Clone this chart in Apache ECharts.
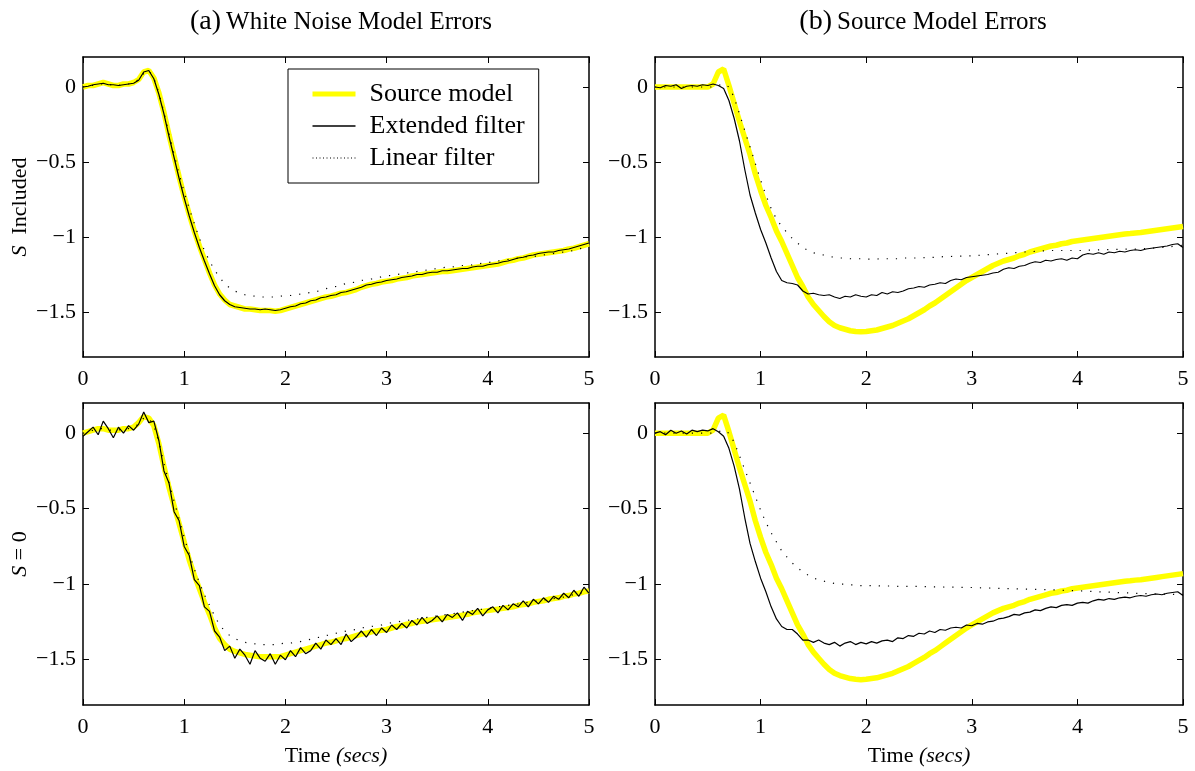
<!DOCTYPE html>
<html>
<head>
    <meta charset="utf-8">
    <title>Model errors</title>
    <script src="https://cdn.jsdelivr.net/npm/echarts@6/dist/echarts.min.js"></script>
    <style>
        html, body {margin:0;padding:0;background:#fff;}
        #chart {width:1195px;height:771px;}
    </style>
</head>
<body>
<div id="chart"></div>
<script>
    // sample times (secs)
    const time = [
        0.00, 0.05, 0.10, 0.15, 0.20, 0.25, 0.30, 0.35, 0.40, 0.45,
        0.50, 0.55, 0.60, 0.65, 0.70, 0.75, 0.80, 0.85, 0.90, 0.95,
        1.00, 1.05, 1.10, 1.15, 1.20, 1.25, 1.30, 1.35, 1.40, 1.45,
        1.50, 1.55, 1.60, 1.65, 1.70, 1.75, 1.80, 1.85, 1.90, 1.95,
        2.00, 2.05, 2.10, 2.15, 2.20, 2.25, 2.30, 2.35, 2.40, 2.45,
        2.50, 2.55, 2.60, 2.65, 2.70, 2.75, 2.80, 2.85, 2.90, 2.95,
        3.00, 3.05, 3.10, 3.15, 3.20, 3.25, 3.30, 3.35, 3.40, 3.45,
        3.50, 3.55, 3.60, 3.65, 3.70, 3.75, 3.80, 3.85, 3.90, 3.95,
        4.00, 4.05, 4.10, 4.15, 4.20, 4.25, 4.30, 4.35, 4.40, 4.45,
        4.50, 4.55, 4.60, 4.65, 4.70, 4.75, 4.80, 4.85, 4.90, 4.95,
        5.00
    ];

    // (a) white noise model errors, S included
    const srcA = [
        0.00, 0.01, 0.01, 0.02, 0.03, 0.02, 0.01, 0.01, 0.02, 0.02,
        0.03, 0.05, 0.10, 0.11, 0.06, -0.04, -0.17, -0.32, -0.46, -0.60,
        -0.73, -0.85, -0.96, -1.06, -1.15, -1.24, -1.32, -1.38, -1.42, -1.45,
        -1.46, -1.47, -1.48, -1.48, -1.485, -1.49, -1.49, -1.49, -1.495, -1.49,
        -1.48, -1.47, -1.46, -1.45, -1.44, -1.43, -1.42, -1.41, -1.40, -1.395,
        -1.385, -1.375, -1.37, -1.36, -1.35, -1.335, -1.325, -1.315, -1.31, -1.30,
        -1.295, -1.29, -1.28, -1.275, -1.27, -1.26, -1.255, -1.25, -1.245, -1.24,
        -1.235, -1.23, -1.23, -1.225, -1.22, -1.215, -1.21, -1.205, -1.20, -1.195,
        -1.19, -1.185, -1.18, -1.17, -1.16, -1.155, -1.145, -1.14, -1.13, -1.12,
        -1.115, -1.11, -1.105, -1.10, -1.095, -1.09, -1.08, -1.075, -1.065, -1.055,
        -1.045
    ];
    const extA = [
        0.00, 0.005, 0.015, 0.02, 0.025, 0.015, 0.015, 0.01, 0.015, 0.02,
        0.025, 0.045, 0.10, 0.11, 0.055, -0.05, -0.18, -0.33, -0.47, -0.61,
        -0.74, -0.86, -0.97, -1.07, -1.16, -1.245, -1.325, -1.385, -1.425, -1.45,
        -1.465, -1.47, -1.475, -1.48, -1.48, -1.485, -1.48, -1.485, -1.49, -1.485,
        -1.475, -1.465, -1.46, -1.445, -1.44, -1.425, -1.42, -1.405, -1.40, -1.39,
        -1.385, -1.37, -1.365, -1.355, -1.345, -1.335, -1.32, -1.315, -1.305, -1.30,
        -1.29, -1.285, -1.28, -1.27, -1.265, -1.26, -1.25, -1.25, -1.24, -1.235,
        -1.235, -1.225, -1.225, -1.22, -1.215, -1.21, -1.21, -1.20, -1.195, -1.195,
        -1.185, -1.18, -1.175, -1.165, -1.16, -1.15, -1.14, -1.135, -1.125, -1.12,
        -1.11, -1.105, -1.10, -1.10, -1.09, -1.085, -1.08, -1.07, -1.06, -1.05,
        -1.04
    ];
    const linA = [
        0.00, 0.01, 0.01, 0.02, 0.02, 0.02, 0.01, 0.01, 0.02, 0.02,
        0.03, 0.05, 0.09, 0.11, 0.06, -0.04, -0.17, -0.31, -0.45, -0.58,
        -0.70, -0.81, -0.91, -1.01, -1.09, -1.16, -1.22, -1.27, -1.31, -1.34,
        -1.36, -1.375, -1.385, -1.39, -1.395, -1.40, -1.40, -1.40, -1.40, -1.395,
        -1.39, -1.39, -1.385, -1.38, -1.375, -1.37, -1.365, -1.355, -1.345, -1.335,
        -1.33, -1.32, -1.31, -1.305, -1.30, -1.29, -1.285, -1.28, -1.275, -1.265,
        -1.26, -1.255, -1.25, -1.245, -1.24, -1.235, -1.23, -1.225, -1.22, -1.215,
        -1.21, -1.205, -1.20, -1.20, -1.195, -1.19, -1.19, -1.185, -1.18, -1.175,
        -1.17, -1.165, -1.16, -1.155, -1.15, -1.145, -1.14, -1.135, -1.13, -1.13,
        -1.125, -1.12, -1.115, -1.11, -1.105, -1.10, -1.095, -1.09, -1.08, -1.07,
        -1.06
    ];

    // (b) source model errors, S included
    const srcB = [
        0.00, 0.00, 0.00, 0.00, 0.00, 0.00, 0.00, 0.00, 0.00, 0.00,
        0.00, 0.02, 0.10, 0.12, 0.01, -0.11, -0.23, -0.34, -0.45, -0.58,
        -0.69, -0.79, -0.87, -0.96, -1.03, -1.11, -1.19, -1.27, -1.33, -1.40,
        -1.45, -1.49, -1.53, -1.565, -1.59, -1.605, -1.615, -1.625, -1.63, -1.632,
        -1.63, -1.625, -1.62, -1.61, -1.60, -1.59, -1.575, -1.56, -1.545, -1.525,
        -1.505, -1.485, -1.46, -1.44, -1.415, -1.39, -1.365, -1.34, -1.315, -1.29,
        -1.27, -1.25, -1.23, -1.21, -1.19, -1.175, -1.16, -1.15, -1.14, -1.125,
        -1.115, -1.10, -1.09, -1.08, -1.07, -1.06, -1.055, -1.045, -1.04, -1.03,
        -1.025, -1.02, -1.015, -1.01, -1.005, -1.00, -0.995, -0.99, -0.985, -0.98,
        -0.977, -0.973, -0.97, -0.965, -0.96, -0.955, -0.95, -0.945, -0.94, -0.935,
        -0.93
    ];
    const extB = [
        0.00, -0.005, 0.01, 0.005, 0.015, -0.01, 0.005, 0.01, 0.005, 0.015,
        0.01, 0.02, 0.01, -0.01, -0.09, -0.21, -0.36, -0.55, -0.72, -0.84,
        -0.95, -1.04, -1.14, -1.23, -1.29, -1.305, -1.31, -1.32, -1.36, -1.38,
        -1.375, -1.385, -1.39, -1.385, -1.40, -1.41, -1.395, -1.40, -1.385, -1.395,
        -1.40, -1.385, -1.39, -1.37, -1.38, -1.365, -1.37, -1.36, -1.345, -1.34,
        -1.33, -1.335, -1.32, -1.315, -1.305, -1.31, -1.29, -1.28, -1.285, -1.27,
        -1.265, -1.26, -1.255, -1.25, -1.24, -1.235, -1.215, -1.205, -1.21, -1.195,
        -1.19, -1.175, -1.165, -1.17, -1.155, -1.16, -1.15, -1.145, -1.155, -1.14,
        -1.145, -1.12, -1.11, -1.115, -1.105, -1.115, -1.10, -1.105, -1.095, -1.10,
        -1.09, -1.085, -1.09, -1.08, -1.075, -1.07, -1.065, -1.06, -1.05, -1.045,
        -1.07
    ];
    const linB = [
        0.00, 0.00, 0.00, 0.00, 0.00, 0.00, 0.00, 0.00, 0.00, 0.00,
        0.00, 0.00, 0.01, 0.02, 0.00, -0.07, -0.18, -0.29, -0.40, -0.51,
        -0.62, -0.72, -0.81, -0.88, -0.93, -0.97, -1.01, -1.04, -1.07, -1.09,
        -1.105, -1.115, -1.12, -1.13, -1.135, -1.14, -1.14, -1.145, -1.145, -1.145,
        -1.147, -1.147, -1.147, -1.145, -1.145, -1.145, -1.145, -1.14, -1.14, -1.14,
        -1.14, -1.138, -1.136, -1.135, -1.133, -1.13, -1.13, -1.128, -1.127, -1.126,
        -1.125, -1.123, -1.12, -1.118, -1.115, -1.113, -1.11, -1.108, -1.105, -1.103,
        -1.10, -1.098, -1.096, -1.094, -1.092, -1.09, -1.09, -1.09, -1.09, -1.09,
        -1.09, -1.09, -1.088, -1.087, -1.086, -1.085, -1.084, -1.083, -1.082, -1.081,
        -1.08, -1.08, -1.078, -1.077, -1.075, -1.072, -1.07, -1.067, -1.063, -1.06,
        -1.055
    ];

    // (a) white noise model errors, S = 0
    const srcC = [
        0.00, 0.01, 0.02, 0.03, 0.03, 0.02, 0.02, 0.02, 0.03, 0.03,
        0.04, 0.07, 0.11, 0.10, 0.05, -0.07, -0.22, -0.36, -0.48, -0.60,
        -0.72, -0.84, -0.94, -1.03, -1.12, -1.20, -1.29, -1.36, -1.40, -1.43,
        -1.445, -1.455, -1.465, -1.47, -1.475, -1.48, -1.48, -1.48, -1.48, -1.48,
        -1.47, -1.46, -1.45, -1.44, -1.43, -1.42, -1.41, -1.40, -1.39, -1.385,
        -1.375, -1.365, -1.36, -1.35, -1.34, -1.33, -1.325, -1.315, -1.31, -1.305,
        -1.30, -1.29, -1.28, -1.275, -1.265, -1.26, -1.25, -1.245, -1.24, -1.235,
        -1.23, -1.225, -1.22, -1.215, -1.21, -1.205, -1.20, -1.19, -1.185, -1.18,
        -1.175, -1.17, -1.165, -1.16, -1.155, -1.15, -1.14, -1.135, -1.13, -1.12,
        -1.115, -1.11, -1.10, -1.095, -1.09, -1.08, -1.075, -1.065, -1.06, -1.05,
        -1.045
    ];
    const extC = [
        -0.02, 0.01, 0.04, -0.01, 0.08, 0.03, -0.03, 0.04, 0.00, 0.05,
        0.02, 0.06, 0.14, 0.07, 0.08, -0.05, -0.25, -0.33, -0.52, -0.58,
        -0.75, -0.81, -0.97, -1.01, -1.15, -1.18, -1.31, -1.35, -1.44, -1.41,
        -1.49, -1.43, -1.47, -1.53, -1.44, -1.49, -1.51, -1.46, -1.53, -1.47,
        -1.50, -1.44, -1.48, -1.42, -1.46, -1.44, -1.39, -1.43, -1.37, -1.40,
        -1.36, -1.40, -1.33, -1.38, -1.35, -1.31, -1.35, -1.30, -1.34, -1.29,
        -1.32, -1.27, -1.30, -1.26, -1.29, -1.24, -1.27, -1.22, -1.26, -1.24,
        -1.21, -1.25, -1.20, -1.22, -1.19, -1.24, -1.18, -1.20, -1.16, -1.21,
        -1.17, -1.15, -1.19, -1.14, -1.17, -1.13, -1.15, -1.11, -1.15, -1.10,
        -1.13, -1.09, -1.12, -1.08, -1.10, -1.06, -1.09, -1.04, -1.08, -1.02,
        -1.06
    ];
    const linC = [
        0.00, 0.01, 0.02, 0.03, 0.03, 0.02, 0.02, 0.02, 0.03, 0.03,
        0.04, 0.06, 0.10, 0.10, 0.05, -0.06, -0.20, -0.33, -0.45, -0.57,
        -0.69, -0.80, -0.90, -0.99, -1.07, -1.14, -1.21, -1.27, -1.31, -1.34,
        -1.36, -1.375, -1.385, -1.39, -1.395, -1.40, -1.40, -1.40, -1.40, -1.395,
        -1.39, -1.39, -1.385, -1.38, -1.37, -1.365, -1.355, -1.35, -1.34, -1.335,
        -1.325, -1.32, -1.31, -1.305, -1.30, -1.29, -1.285, -1.28, -1.275, -1.27,
        -1.26, -1.255, -1.25, -1.245, -1.24, -1.235, -1.23, -1.225, -1.22, -1.215,
        -1.21, -1.205, -1.20, -1.195, -1.19, -1.185, -1.18, -1.175, -1.17, -1.165,
        -1.16, -1.155, -1.15, -1.145, -1.14, -1.135, -1.13, -1.125, -1.12, -1.115,
        -1.11, -1.105, -1.10, -1.095, -1.09, -1.085, -1.075, -1.07, -1.06, -1.055,
        -1.05
    ];

    // (b) source model errors, S = 0
    const srcD = srcB;
    const extD = [
        0.00, 0.01, -0.01, 0.02, 0.00, 0.015, -0.005, 0.02, 0.01, 0.02,
        0.015, 0.03, 0.01, -0.02, -0.10, -0.22, -0.37, -0.56, -0.73, -0.85,
        -0.96, -1.05, -1.15, -1.23, -1.28, -1.30, -1.30, -1.33, -1.37, -1.37,
        -1.385, -1.37, -1.39, -1.40, -1.385, -1.41, -1.39, -1.38, -1.40, -1.385,
        -1.395, -1.38, -1.39, -1.375, -1.37, -1.38, -1.355, -1.36, -1.34, -1.345,
        -1.325, -1.33, -1.31, -1.32, -1.30, -1.305, -1.29, -1.285, -1.29, -1.27,
        -1.275, -1.26, -1.265, -1.25, -1.245, -1.23, -1.225, -1.215, -1.20, -1.205,
        -1.19, -1.185, -1.17, -1.175, -1.16, -1.15, -1.155, -1.14, -1.135, -1.14,
        -1.125, -1.12, -1.125, -1.11, -1.10, -1.105, -1.095, -1.10, -1.09, -1.085,
        -1.09, -1.08, -1.075, -1.08, -1.07, -1.065, -1.07, -1.06, -1.055, -1.05,
        -1.075
    ];
    const linD = [
        0.00, 0.00, 0.00, 0.00, 0.00, 0.00, 0.00, 0.00, 0.00, 0.00,
        0.00, 0.00, 0.01, 0.02, 0.00, -0.06, -0.15, -0.24, -0.33, -0.42,
        -0.51, -0.59, -0.66, -0.72, -0.78, -0.82, -0.86, -0.89, -0.92, -0.94,
        -0.96, -0.97, -0.98, -0.99, -0.995, -1.00, -1.00, -1.005, -1.005, -1.01,
        -1.01, -1.01, -1.01, -1.012, -1.012, -1.012, -1.014, -1.014, -1.015, -1.015,
        -1.015, -1.016, -1.017, -1.018, -1.018, -1.019, -1.02, -1.02, -1.021, -1.022,
        -1.022, -1.023, -1.024, -1.025, -1.026, -1.027, -1.028, -1.029, -1.03, -1.031,
        -1.032, -1.033, -1.034, -1.035, -1.036, -1.037, -1.038, -1.04, -1.041, -1.042,
        -1.044, -1.045, -1.047, -1.048, -1.05, -1.051, -1.053, -1.054, -1.056, -1.057,
        -1.058, -1.06, -1.061, -1.062, -1.063, -1.064, -1.065, -1.066, -1.067, -1.068,
        -1.07
    ];

    const yTicks = [-1.5, -1, -0.5, 0];

    const FONT = 'Liberation Serif';
    const chart = echarts.init(document.getElementById('chart'));

    // panel boxes
    const grids = [
        {left: 83, top: 57, width: 506, height: 300},
        {left: 655, top: 57, width: 528, height: 300},
        {left: 83, top: 403, width: 506, height: 302},
        {left: 655, top: 403, width: 528, height: 302}
    ];

    const fmtY = function (v) { return v < 0 ? '\u2212' + Math.abs(v) : String(v); };
    const frameLine = {onZero: false, lineStyle: {color: '#000', width: 1.5}};
    const tick = {inside: true, length: 6, lineStyle: {color: '#000'}};

    const xAxes = [], yAxes = [];
    grids.forEach(function (g, i) {
        const bottomRow = i >= 2;
        const leftCol = i % 2 === 0;
        xAxes.push({
            gridIndex: i, type: 'value', min: 0, max: 5, interval: 1, position: 'bottom',
            axisLine: frameLine, axisTick: tick,
            axisLabel: {color: '#000', fontFamily: FONT, fontSize: 22, margin: 11},
            splitLine: {show: false},
            name: bottomRow ? '{n|Time }{i|(secs)}' : '',
            nameLocation: 'middle', nameGap: 40,
            nameTextStyle: {rich: {
                n: {fontFamily: FONT, fontSize: 22, color: '#000'},
                i: {fontFamily: FONT, fontSize: 22, fontStyle: 'italic', color: '#000'}
            }}
        });
        xAxes.push({
            gridIndex: i, type: 'value', min: 0, max: 5, interval: 1, position: 'top',
            axisLine: frameLine, axisTick: tick,
            axisLabel: {show: false}, splitLine: {show: false}
        });
        yAxes.push({
            gridIndex: i, type: 'value', min: -1.8, max: 0.2, position: 'left',
            axisLine: frameLine,
            axisTick: Object.assign({customValues: yTicks}, tick),
            axisLabel: {color: '#000', fontFamily: FONT, fontSize: 22, margin: 7,
                customValues: yTicks, formatter: fmtY},
            splitLine: {show: false},
            name: leftCol ? (i === 0 ? '{i|S}{n|  Included}' : '{i|S}{n| = 0}') : '',
            nameLocation: 'middle', nameGap: 52, nameRotate: 90,
            nameTextStyle: {rich: {
                n: {fontFamily: FONT, fontSize: 22, color: '#000'},
                i: {fontFamily: FONT, fontSize: 22, fontStyle: 'italic', color: '#000'}
            }}
        });
        yAxes.push({
            gridIndex: i, type: 'value', min: -1.8, max: 0.2, position: 'right',
            axisLine: frameLine,
            axisTick: Object.assign({customValues: yTicks}, tick),
            axisLabel: {show: false}, splitLine: {show: false}
        });
    });

    function pairs(arr) { return time.map(function (t, k) { return [t, arr[k]]; }); }

    const panels = [
        {src: srcA, ext: extA, lin: linA},
        {src: srcB, ext: extB, lin: linB},
        {src: srcC, ext: extC, lin: linC},
        {src: srcD, ext: extD, lin: linD}
    ];

    const series = [];
    panels.forEach(function (p, i) {
        const base = {type: 'line', xAxisIndex: i * 2, yAxisIndex: i * 2, symbol: 'none',
            silent: true, animation: false};
        series.push(Object.assign({}, base, {name: 'Source model', data: pairs(p.src), z: 2,
            lineStyle: {color: '#ffff00', width: 5.5}, itemStyle: {color: '#ffff00'}}));
        series.push(Object.assign({}, base, {name: 'Extended filter', data: pairs(p.ext), z: 3,
            lineStyle: {color: '#000', width: 1.2}, itemStyle: {color: '#000'}}));
        series.push(Object.assign({}, base, {name: 'Linear filter', data: pairs(p.lin), z: 4,
            lineStyle: {color: '#000', width: 1.2, type: [1.2, 8]}, itemStyle: {color: '#000'}}));
    });

    const titleRich = {
        a: {fontFamily: FONT, fontSize: 28, fontWeight: 'normal', color: '#000'},
        b: {fontFamily: FONT, fontSize: 25, fontWeight: 'normal', color: '#000'}
    };

    const option = {
        backgroundColor: '#fff',
        animation: false,
        title: [
            {text: '{a|(a)} {b|White Noise Model Errors}', left: 336, top: 3, textAlign: 'center',
                textStyle: {fontWeight: 'normal', rich: titleRich}},
            {text: '{a|(b)} {b|Source Model Errors}', left: 918, top: 3, textAlign: 'center',
                textStyle: {fontWeight: 'normal', rich: titleRich}}
        ],
        legend: {
            data: [
                {name: 'Source model', lineStyle: {width: 5}},
                {name: 'Extended filter', lineStyle: {width: 1.5}},
                {name: 'Linear filter', lineStyle: {width: 1.2, type: [1, 2.5]}}
            ],
            left: 288, top: 69, orient: 'vertical',
            backgroundColor: '#fff', borderColor: '#000', borderWidth: 1,
            padding: [12, 14, 12, 22],
            itemWidth: 43, itemHeight: 24, itemGap: 6,
            itemStyle: {opacity: 0},
            selectedMode: false,
            textStyle: {fontFamily: FONT, fontSize: 26, lineHeight: 24, color: '#000', padding: [0, 0, 0, 9]}
        },
        grid: grids,
        xAxis: xAxes,
        yAxis: yAxes,
        series: series
    };
    chart.setOption(option);
</script>
</body>
</html>
